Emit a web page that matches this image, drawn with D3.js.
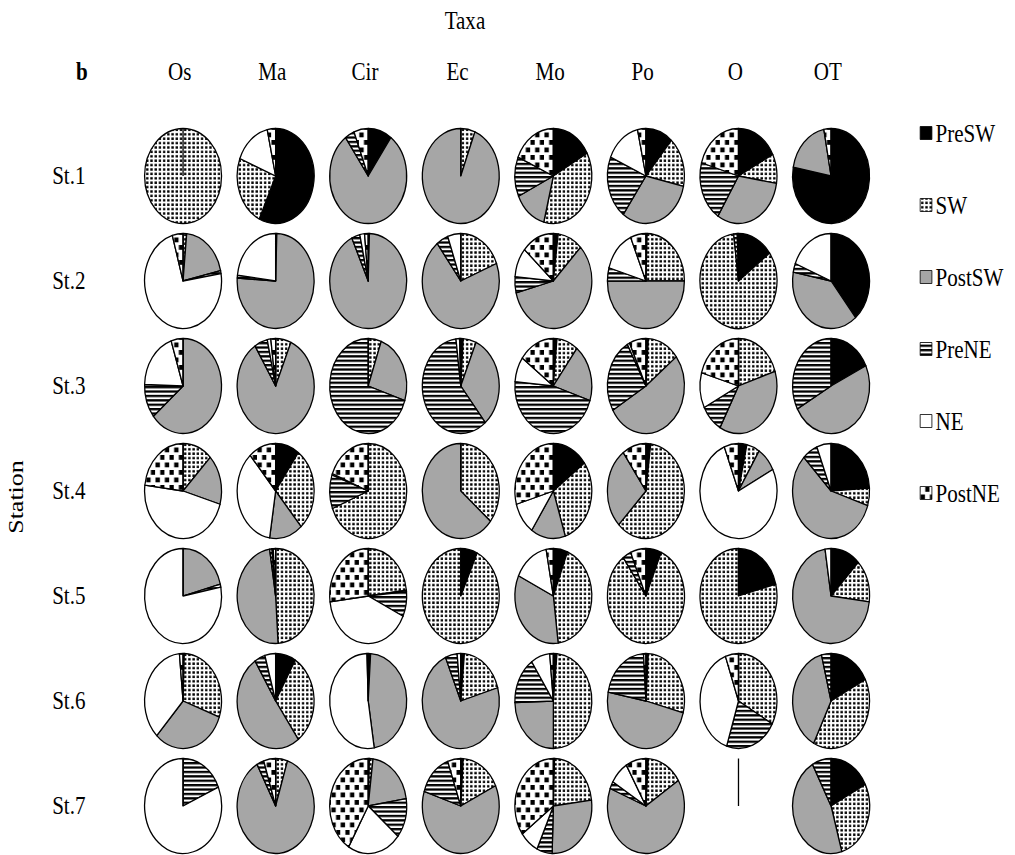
<!DOCTYPE html>
<html>
<head>
<meta charset="utf-8">
<script src="https://cdn.jsdelivr.net/npm/d3@7"></script>
<style>
  body { margin: 0; background: #fff; }
  text { font-family: "Liberation Serif", "Times New Roman", serif; fill: #000; }
</style>
</head>
<body>
<div id="chart"></div>
<script>
const taxa = ["Os", "Ma", "Cir", "Ec", "Mo", "Po", "O", "OT"];
const stations = ["St.1", "St.2", "St.3", "St.4", "St.5", "St.6", "St.7"];
const seasons = ["PreSW", "SW", "PostSW", "PreNE", "NE", "PostNE"];

// share (%) per taxon, in season order: PreSW, SW, PostSW, PreNE, NE, PostNE
const st1 = [
  [0, 100, 0, 0, 0, 0],
  [57, 24, 0, 0, 15.5, 3.5],
  [10, 0, 80, 4, 0, 6],
  [0, 6, 94, 0, 0, 0],
  [17, 37, 14, 13.5, 0, 18.5],
  [11.5, 17, 31.5, 21.5, 15, 3.5],
  [17.5, 10, 31.5, 20.5, 0, 20.5],
  [78, 0, 19, 0, 0, 3]
];
const st2 = [
  [0, 1.5, 20, 1, 73, 4.5],
  [0.5, 0, 75.5, 1, 23, 0],
  [0, 0.5, 92.5, 3.5, 2, 1.5],
  [0, 19, 70.5, 5, 5.5, 0],
  [2, 10.5, 58.5, 5.5, 10, 13.5],
  [0.5, 24.5, 50, 4.5, 14, 6.5],
  [15, 83, 0, 1.5, 0, 0.5],
  [39, 0, 39, 3, 19, 0]
];
const st3 = [
  [0, 0, 64, 11.5, 19.5, 5],
  [0, 6.5, 84.5, 5.5, 1.5, 2],
  [0, 5.5, 24.5, 70, 0, 0],
  [1, 5.5, 32.5, 59, 1.5, 0.5],
  [1.5, 9, 19.5, 46.5, 8.5, 15],
  [1, 13.5, 52, 25.5, 1, 7],
  [0, 20, 38, 9.5, 12, 20.5],
  [18, 0, 49, 33, 0, 0]
];
const st4 = [
  [0, 12.5, 17, 0, 47.5, 23],
  [10, 28.5, 14, 0, 36, 11.5],
  [0, 69, 0, 11.5, 0.5, 19],
  [0, 36, 64, 0, 0, 0],
  [15, 30, 14.5, 0, 11, 29.5],
  [2, 60.5, 27.5, 0, 0, 10],
  [3.5, 5.5, 8.5, 0, 76.5, 6],
  [24, 6, 57.5, 6.5, 6, 0]
];
const st5 = [
  [0, 0, 21, 1, 78, 0],
  [0, 49, 48.5, 1, 0.5, 1],
  [0, 23, 0.5, 8.5, 41, 27],
  [7, 93, 0, 0, 0, 0],
  [6, 42, 34, 0, 15, 3],
  [6.5, 83.5, 0, 3.5, 0, 6.5],
  [21, 79, 0, 0, 0, 0],
  [12.5, 14.5, 70.5, 0, 2.5, 0]
];
const st6 = [
  [0.5, 30, 31.5, 0, 36.5, 1.5],
  [8.5, 31.5, 51, 4.5, 4.5, 0],
  [1, 0, 46.5, 0, 52, 0.5],
  [1.5, 19, 73, 5, 1.5, 0],
  [1.5, 48.5, 24.5, 16, 8, 1.5],
  [1, 28, 49, 21, 0, 1],
  [0, 33, 0, 22, 39.5, 5.5],
  [17.5, 40, 38.5, 4, 0, 0]
];
const st7 = [
  [0, 0, 0, 18.5, 81.5, 0],
  [0, 5, 87, 3, 0, 5],
  [0.5, 1.5, 20.5, 13.5, 22.5, 41.5],
  [1, 17, 62, 14.5, 0, 5.5],
  [0.5, 22.5, 27.5, 6.5, 8, 35],
  [1, 15, 65, 2.5, 8, 8.5],
  null,                        // O at St.7: no catch
  [17.5, 28, 46.5, 8, 0, 0]
];
const values = [st1, st2, st3, st4, st5, st6, st7];

const width = 1015, height = 855;
const squash = 0.81;   // the figure is drawn narrower than tall
const radius = 47.5;

const svg = d3.select("#chart").append("svg")
  .attr("width", width)
  .attr("height", height);

const defs = svg.append("defs");

// SW: fine dots
const pSW = defs.append("pattern").attr("id", "pat-sw")
  .attr("patternUnits", "userSpaceOnUse").attr("width", 5.2).attr("height", 4.4);
pSW.append("rect").attr("width", 5.2).attr("height", 4.4).attr("fill", "#fff");
pSW.append("rect").attr("x", 1.2).attr("y", 1.1).attr("width", 2.9).attr("height", 2.4).attr("fill", "#000");

// PreNE: horizontal stripes
const pPreNE = defs.append("pattern").attr("id", "pat-prene")
  .attr("patternUnits", "userSpaceOnUse").attr("width", 8).attr("height", 4.4);
pPreNE.append("rect").attr("width", 8).attr("height", 4.4).attr("fill", "#fff");
pPreNE.append("rect").attr("y", 0).attr("width", 8).attr("height", 2.3).attr("fill", "#000");

// PostNE: staggered large squares
const pPostNE = defs.append("pattern").attr("id", "pat-postne")
  .attr("patternUnits", "userSpaceOnUse").attr("width", 11.5).attr("height", 15);
pPostNE.append("rect").attr("width", 11.5).attr("height", 15).attr("fill", "#fff");
pPostNE.append("rect").attr("x", 0.5).attr("y", 1.5).attr("width", 5.4).attr("height", 4.8).attr("fill", "#000");
pPostNE.append("rect").attr("x", 6.3).attr("y", 9).attr("width", 5.4).attr("height", 4.8).attr("fill", "#000");

const fills = d3.scaleOrdinal()
  .domain(seasons)
  .range(["#000", "url(#pat-sw)", "#a6a6a6", "url(#pat-prene)", "#fff", "url(#pat-postne)"]);

const g = svg.append("g").attr("transform", "scale(" + squash + ",1)");

const x = d3.scalePoint().domain(taxa).range([226, 1026]);
const y = d3.scalePoint().domain(stations).range([176, 806]);
const ly = d3.scalePoint().domain(seasons).range([133, 493]);

// titles and labels
g.append("text").attr("x", 574).attr("y", 29)
  .attr("text-anchor", "middle").style("font-size", "26px").text("Taxa");
g.append("text").attr("x", 101).attr("y", 80)
  .attr("text-anchor", "middle").style("font-size", "26px").style("font-weight", "bold").text("b");

g.selectAll(".taxon")
  .data(taxa)
  .enter()
  .append("text")
  .attr("class", "taxon")
  .attr("x", d => x(d) - 4)
  .attr("y", 80)
  .attr("text-anchor", "middle")
  .style("font-size", "26px")
  .text(d => d);

g.selectAll(".station")
  .data(stations)
  .enter()
  .append("text")
  .attr("class", "station")
  .attr("x", 85)
  .attr("y", d => y(d) + 8)
  .attr("text-anchor", "middle")
  .style("font-size", "26px")
  .text(d => d);

g.append("text")
  .attr("transform", "translate(29,497) rotate(-90)")
  .attr("text-anchor", "middle")
  .style("font-size", "26px")
  .text("Station");

// pies
const pie = d3.pie().value(d => d).sort(null);
const arc = d3.arc().innerRadius(0).outerRadius(radius);

const cells = [];
stations.forEach((s, i) => {
  taxa.forEach((t, j) => {
    cells.push({ station: s, taxon: t, vals: values[i][j] });
  });
});

const pies = g.selectAll(".pie")
  .data(cells)
  .enter()
  .append("g")
  .attr("class", "pie")
  .attr("transform", d => "translate(" + x(d.taxon) + "," + y(d.station) + ")");

pies.filter(d => d.vals)
  .selectAll("path")
  .data(d => pie(d.vals).map((a, k) => Object.assign(a, { season: seasons[k] })).filter(a => a.value > 0))
  .enter()
  .append("path")
  .attr("d", arc)
  .attr("fill", d => fills(d.season))
  .attr("stroke", "#000")
  .attr("stroke-width", 1.3)
  .attr("stroke-linejoin", "round")
  .attr("vector-effect", "non-scaling-stroke");

// the radial edge at twelve o'clock (also all that is left of an empty pie)
pies.append("line")
  .attr("x1", 0).attr("y1", 0)
  .attr("x2", 0).attr("y2", -radius)
  .attr("stroke", "#000")
  .attr("stroke-width", 1.3)
  .attr("vector-effect", "non-scaling-stroke");

// legend
const legend = g.selectAll(".legend")
  .data(seasons)
  .enter()
  .append("g")
  .attr("class", "legend")
  .attr("transform", d => "translate(1136," + ly(d) + ")");

legend.append("rect")
  .attr("x", 0).attr("y", -6.5)
  .attr("width", 14.5).attr("height", 13)
  .attr("fill", d => fills(d))
  .attr("stroke", "#000")
  .attr("stroke-width", 0.8)
  .attr("vector-effect", "non-scaling-stroke");

legend.append("text")
  .attr("x", 19)
  .attr("y", 9)
  .style("font-size", "26px")
  .text(d => d);
</script>
</body>
</html>
